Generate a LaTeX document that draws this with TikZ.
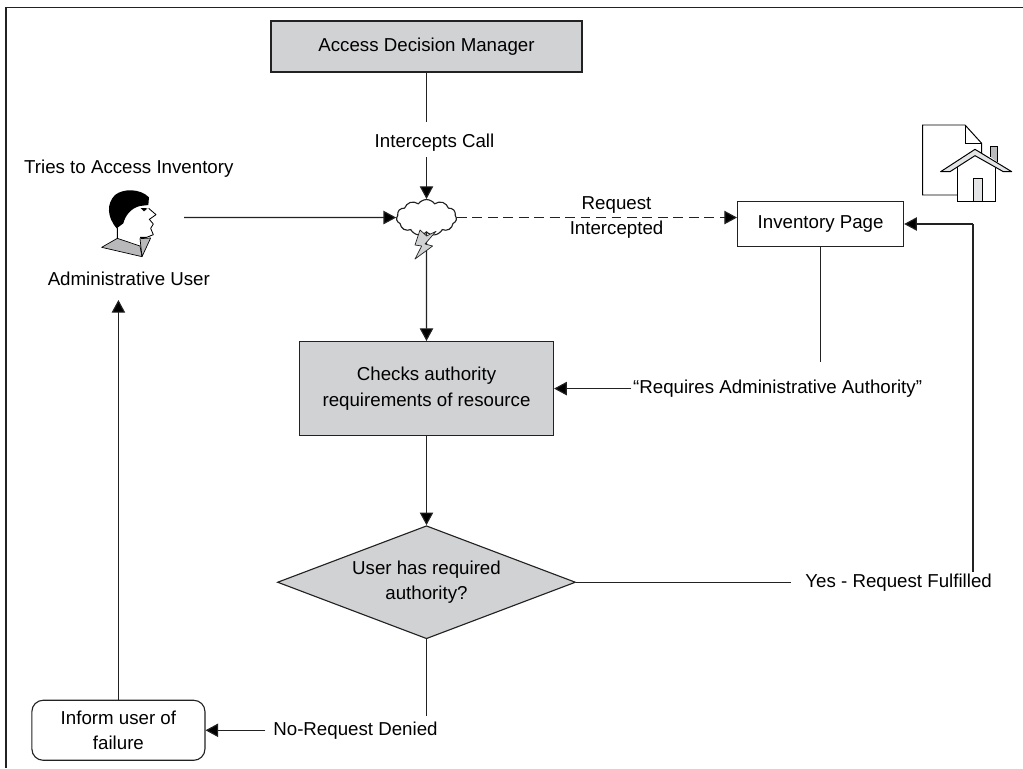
\documentclass[tikz,border=0pt]{standalone}
\usepackage{fontspec}
\setmainfont{Liberation Sans}
\usetikzlibrary{positioning, arrows.meta, shapes.geometric, shapes.symbols}
\definecolor{blockgray}{HTML}{D1D2D4}
\definecolor{linegray}{HTML}{222222}
\tikzset{
  grayblock/.style={draw=linegray, fill=blockgray, align=center},
  label/.style={align=center, inner sep=1pt},
  conn/.style={draw=linegray, line width=0.8pt},
}
\begin{document}
\begin{tikzpicture}[x=0.025cm, y=-0.025cm, >={Stealth[inset=0pt, length=9pt, width=9.5pt]}, on grid, line width=0.8pt, font=\fontsize{13.3}{18}\selectfont]
  \useasboundingbox (0,0) rectangle (1023,768);
  \draw[conn] (1023,7.5) -- (6,7.5) -- (6,768);
  \node[grayblock, minimum width=7.775cm, minimum height=1.275cm] (adm) at (426.5,46.5) {Access Decision Manager};
  \node[label, below right=2.4cm and 0.2cm of adm] (intercepts) {Intercepts Call};
  \node[cloud, draw=linegray, fill=white, cloud puffs=11, cloud puff arc=110, aspect=1.8, minimum width=1.5cm, minimum height=0.9cm, inner sep=0pt, below=4.275cm of adm] (cloud) {};
  \node[label, right=4.75cm of cloud] (request) {Request\\Intercepted};
  \node[draw=linegray, minimum width=4.15cm, minimum height=1.125cm, below right=0.16cm and 9.85cm of cloud] (inv) {Inventory Page};
  \node[grayblock, minimum width=6.35cm, minimum height=2.35cm, below=4.275cm of cloud] (check) {Checks authority\\requirements of resource};
  \node[label, right=8.775cm of check] (requires) {“Requires Administrative Authority”};
  \node[diamond, grayblock, aspect=2.6, inner sep=0pt, minimum width=7.45cm, minimum height=2.825cm, below=4.84cm of check] (decide) {User has required\\authority?};
  \node[label, right=11.8cm of decide] (yes) {Yes - Request Fulfilled};
  \node[label, below left=3.7cm and 1.775cm of decide] (no) {No-Request Denied};
  \node[draw=linegray, rounded corners=8pt, align=center, minimum width=4.325cm, minimum height=1.5cm, left=5.925cm of no] (fail) {Inform user of\\failure};
  \node[label, above right=11.275cm and 0.26cm of fail] (adminuser) {Administrative User};
  \node[label, above=2.75cm of adminuser] (tries) {Tries to Access Inventory};
  \coordinate (userout) at (184,217.5);
  \coordinate (yesup) at (973,224);
  \path[conn] (adm.south) edge ([yshift=0.25cm]adm.south |- intercepts.north)
        ([yshift=-0.1cm]adm.south |- intercepts.south) edge[->] (cloud.north)
        (userout) edge[->] (cloud.west)
        (cloud.east) edge[->, dash pattern=on 7pt off 4pt] (cloud.east -| inv.west)
        (cloud.south) edge[->] (check.north)
        (inv.south) edge ([yshift=0.4cm]inv.south |- requires.north)
        (requires.west) edge[->] (check.east)
        (check.south) edge[->] (decide.north)
        (decide.east) edge ([xshift=-0.3cm]yes.west)
        (yes.north -| yesup) edge (yesup)
        (yesup) edge[->] (inv.east |- yesup)
        (decide.south) edge ([yshift=0.1cm]decide.south |- no.north)
        ([xshift=-0.15cm]no.west) edge[->] (fail.east)
        (fail.north) edge[->] ([yshift=-0.3cm]fail.north |- adminuser.south);
  % bolt under the cloud
  \begin{scope}[shift={(370,170)}, scale=1/3]
    \draw[draw=linegray, fill=blockgray, line width=0.5pt, line join=round] (150,180) -- (135,225) -- (155,228) -- (135,267) -- (188,228) -- (165,222) -- (198,184) -- (170,198) -- cycle;
  \end{scope}
  % user head
  \begin{scope}[shift={(0,140)}, scale=1/3]
    \draw[fill=blockgray!70!gray, line width=0.5pt, line join=round] (305,322) -- (352,295) -- (420,318) -- (426,350) -- cycle;
    \draw[fill=blockgray!70!gray, line width=0.5pt, line join=round] (420,296) -- (452,294) -- (426,350) -- cycle;
    \draw[line width=0.6pt, line join=round] (352,262) -- (352,295) (420,292) -- (440,292) -- (460,284) -- (452,265) -- (460,252) -- (448,238) -- (468,224) -- (446,205);
    \fill (350,265) .. controls (320,230) and (320,190) .. (345,165) .. controls (370,145) and (420,145) .. (447,172) -- (445,195) -- (420,198) .. controls (390,205) and (375,230) .. (370,250) -- cycle;
    \fill (422,204) -- (443,205) -- (432,214) -- cycle;
  \end{scope}
  % page with house
  \begin{scope}[shift={(905,85)}, scale=1/3]
    \draw[line width=0.7pt] (157,330) -- (53,330) -- (53,120) -- (180,120) -- (230,175) -- (230,205);
    \draw[line width=0.7pt] (180,120) -- (180,175) -- (230,175);
    \draw[fill=blockgray!70!gray, line width=0.7pt] (256,215) -- (256,185) -- (276,185) -- (276,230);
    \draw[fill=white, line width=0.7pt] (157,240) -- (157,348) -- (270,348) -- (270,240);
    \draw[fill=blockgray!60, line width=0.7pt] (205,348) -- (205,280) -- (232,280) -- (232,348);
    \draw[fill=blockgray!60, line width=0.7pt, line join=round] (107,260) -- (210,193) -- (320,260) -- (295,260) -- (210,212) -- (135,260) -- cycle;
  \end{scope}
\end{tikzpicture}
\end{document}
